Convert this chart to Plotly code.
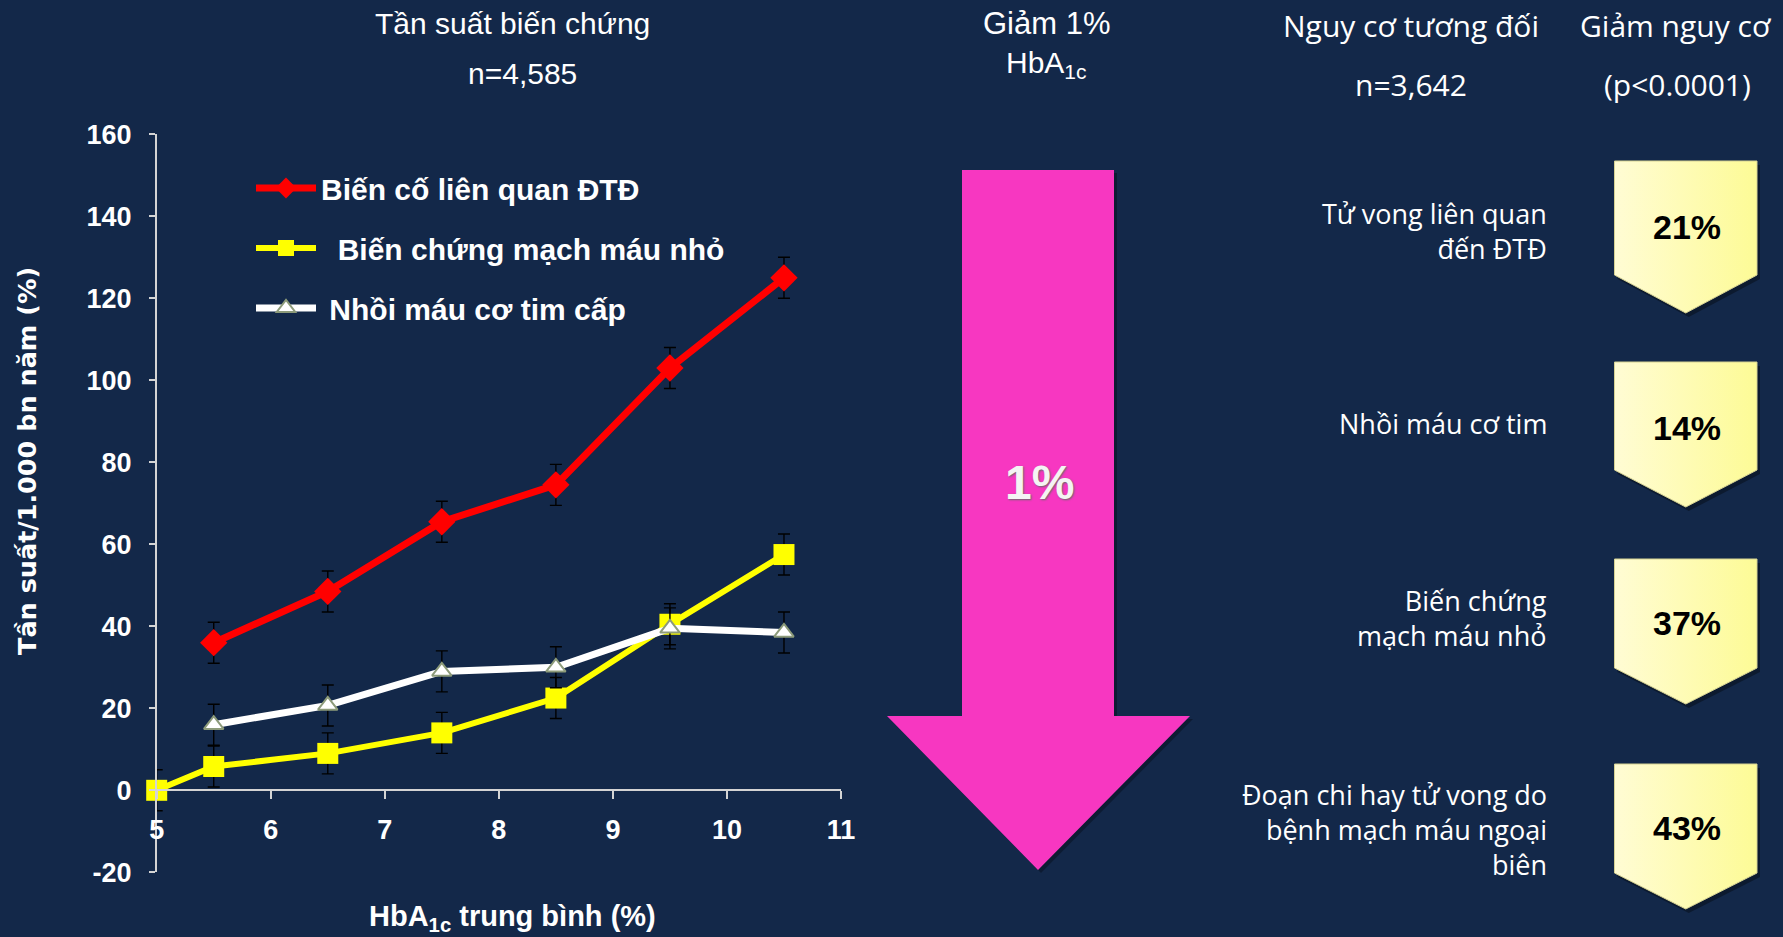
import plotly.graph_objects as go

W, H = 1783, 937
BG = "#132849"
BOLD = "Liberation Sans, Arial, sans-serif"
WIDE_BOLD = "DejaVu Sans, Verdana, sans-serif"
SANS = "Open Sans, Noto Sans, sans-serif"

# ---- UKPDS 35: complication incidence by updated mean HbA1c ----
hba1c = [5.5, 6.5, 7.5, 8.5, 9.5, 10.5]
hba1c_micro = [5.0, 5.5, 6.5, 7.5, 8.5, 9.5, 10.5]
any_endpoint = [36, 48.5, 65.5, 74.5, 103, 125]
microvascular = [0, 5.8, 9, 14, 22.5, 40.5, 57.5]
myocardial_inf = [16, 20.7, 29, 30, 39.5, 38.5]
ci_half = 5

series_names = [
    "Biến cố liên quan ĐTĐ",
    "\u00a0\u00a0Biến chứng mạch máu nhỏ",
    "\u00a0Nhồi máu cơ tim cấp",
]
x_ticks = [5, 6, 7, 8, 9, 10, 11]
y_ticks = [-20, 0, 20, 40, 60, 80, 100, 120, 140, 160]
y_tick_labels = [str(v) for v in y_ticks]

# ---- relative risk reduction per 1% HbA1c ----
outcomes = [
    "Tử vong liên quan<br>đến ĐTĐ",
    "Nhồi máu cơ tim",
    "Biến chứng<br>mạch máu nhỏ",
    "Đoạn chi hay tử vong do<br>bệnh mạch máu ngoại<br>biên",
]
risk_reduction = [21, 14, 37, 43]

# plot area in pixels
PX0, PX1 = 156.7, 841.0
PY_TOP, PY_BOT = 134.3, 872.3
Y_MIN, Y_MAX = -20, 160
xdom = [PX0 / W, PX1 / W]
ydom = [(H - PY_BOT) / H, (H - PY_TOP) / H]
xaxis_pos = ydom[0] + (0 - Y_MIN) / (Y_MAX - Y_MIN) * (ydom[1] - ydom[0])

fig = go.Figure()

err = dict(type="data", array=None, color="black", thickness=1.4, width=6)

fig.add_trace(go.Scatter(
    x=hba1c, y=any_endpoint, name=series_names[0], legendgroup="a",
    mode="lines+markers", cliponaxis=False,
    line=dict(color="#ff0000", width=7),
    marker=dict(symbol="diamond", size=21, color="#ff0000"),
    error_y={**err, "array": [ci_half] * len(hba1c)},
))
fig.add_trace(go.Scatter(
    x=hba1c_micro, y=microvascular, name=series_names[1], legendgroup="b",
    mode="lines+markers", cliponaxis=False,
    line=dict(color="#ffff00", width=6),
    marker=dict(symbol="square", size=21, color="#ffff00"),
    error_y={**err, "array": [ci_half] * len(hba1c_micro)},
))
fig.add_trace(go.Scatter(
    x=hba1c, y=myocardial_inf, name=series_names[2], legendgroup="c",
    mode="lines+markers", cliponaxis=False,
    line=dict(color="#ffffff", width=7),
    marker=dict(symbol="triangle-up", size=17, color="#ffffff",
                line=dict(color="#8d9b7a", width=2)),
    error_y={**err, "array": [ci_half] * len(hba1c)},
))

# ---- pixel-space overlay for the right-hand panel ----
BX0, BX1 = 1614.5, 1757.0
BXC = (BX0 + BX1) / 2
box_geom = [(161, 275, 313), (362, 470, 507), (559, 668, 704), (764, 873, 909)]
label_y = [231, 423, 618, 829]
pct_y = [227, 428, 623, 828]

shapes = []
annotations = []

for (top, rb, tip) in box_geom:
    xs = [BX0, BX1, BX1, BXC, BX0, BX0]
    ys = [top, top, rb, tip, rb, top]
    fig.add_trace(go.Scatter(
        x=[v + 3 for v in xs], y=[v + 4 for v in ys], xaxis="x2", yaxis="y2",
        mode="lines", fill="toself", fillcolor="rgba(0,0,0,0.35)",
        line=dict(width=0), hoverinfo="skip", showlegend=False,
    ))
    fig.add_trace(go.Scatter(
        x=xs, y=ys, xaxis="x2", yaxis="y2", mode="lines", fill="toself",
        fillgradient=dict(type="horizontal",
                          colorscale=[[0, "#fffcd4"], [1, "#fdfb96"]]),
        line=dict(color="#d6d293", width=1), hoverinfo="skip", showlegend=False,
    ))

for txt, val, ly, py in zip(outcomes, risk_reduction, label_y, pct_y):
    annotations.append(dict(
        x=1549, y=ly, xref="x2", yref="y2", text=txt, showarrow=False,
        xanchor="right", yanchor="middle", align="right",
        font=dict(family=SANS, size=27, color="white"),
    ))
    annotations.append(dict(
        x=1687, y=py, xref="x2", yref="y2", text=f"<b>{val}%</b>", showarrow=False,
        xanchor="center", yanchor="middle",
        font=dict(family=BOLD, size=34, color="black"),
    ))

# big downward arrow
arrow_path = "M962,170 L1114,170 L1114,716 L1190,716 L1038,870 L887,716 L962,716 Z"
shadow_path = "M965,173 L1117,173 L1117,719 L1193,719 L1041,873 L890,719 L965,719 Z"
shapes.append(dict(type="path", path=shadow_path, xref="x2", yref="y2",
                   fillcolor="rgba(0,0,0,0.30)", line=dict(width=0), layer="below"))
shapes.append(dict(type="path", path=arrow_path, xref="x2", yref="y2",
                   fillcolor="#f737c1", line=dict(width=0), layer="below"))
annotations.append(dict(
    x=1039, y=482, xref="x2", yref="y2", text="<b>1%</b>", showarrow=False,
    font=dict(family=BOLD, size=48, color="#f4f4f4", shadow="1px 1px 2px #6a6a6a"),
))

# headers
def header(x, y, text, family, size):
    annotations.append(dict(
        x=x, y=y, xref="x2", yref="y2", text=text, showarrow=False,
        xanchor="center", yanchor="middle",
        font=dict(family=family, size=size, color="white"),
    ))

header(512, 23, "Tần suất biến chứng", BOLD, 30)
header(522, 73, "n=4,585", BOLD, 30)
header(1046, 23, "Giảm 1%", BOLD, 31)
header(1046, 64, "HbA<sub>1c</sub>", BOLD, 30)
header(1411, 25, "Nguy cơ tương đối", SANS, 30)
header(1411, 84, "n=3,642", SANS, 30)
header(1676, 25, "Giảm nguy cơ", SANS, 30)
header(1677, 84, "(p<0.0001)", SANS, 30)

# axis titles
annotations.append(dict(
    x=27, y=461, xref="x2", yref="y2", text="<b>Tần suất/1.000 bn năm (%)</b>",
    showarrow=False, textangle=-90, xanchor="center", yanchor="middle",
    font=dict(family=WIDE_BOLD, size=25.5, color="white"),
))
annotations.append(dict(
    x=512, y=918, xref="x2", yref="y2", text="<b>HbA<sub>1c</sub> trung bình (%)</b>",
    showarrow=False, xanchor="center", yanchor="middle",
    font=dict(family=BOLD, size=29, color="white"),
))

axis_col = "#d4d4d4"
fig.update_layout(
    width=W, height=H, autosize=False,
    margin=dict(l=0, r=0, t=0, b=0, pad=0, autoexpand=False),
    paper_bgcolor=BG, plot_bgcolor="rgba(0,0,0,0)",
    xaxis=dict(
        domain=xdom, range=[5, 11], tickvals=x_ticks, anchor="free", position=xaxis_pos,
        showline=True, linecolor=axis_col, linewidth=1.5, showgrid=False, zeroline=False,
        ticks="outside", ticklen=8, tickwidth=1.5, tickcolor=axis_col,
        tickfont=dict(family=BOLD, size=27, color="white", weight="bold"),
        ticklabelstandoff=8, automargin=False,
    ),
    yaxis=dict(
        domain=ydom, range=[Y_MIN, Y_MAX], tickvals=y_ticks, ticktext=y_tick_labels,
        anchor="x",
        showline=True, linecolor=axis_col, linewidth=1.5, showgrid=False, zeroline=False,
        ticks="outside", ticklen=6, tickwidth=1.5, tickcolor=axis_col,
        tickfont=dict(family=BOLD, size=27, color="white", weight="bold"),
        ticklabelstandoff=12, automargin=False,
    ),
    xaxis2=dict(domain=[0, 1], range=[0, W], visible=False, anchor="y2", fixedrange=True),
    yaxis2=dict(domain=[0, 1], range=[H, 0], visible=False, anchor="x2", fixedrange=True),
    legend=dict(
        x=251 / W, y=1 - 162 / H, xanchor="left", yanchor="top",
        bgcolor="rgba(0,0,0,0)", borderwidth=0, itemwidth=60,
        tracegroupgap=18, traceorder="grouped",
        font=dict(family=BOLD, size=30, color="white", weight="bold"),
    ),
    showlegend=True,
    shapes=shapes,
    annotations=annotations,
)

fig.write_html("out.html")
